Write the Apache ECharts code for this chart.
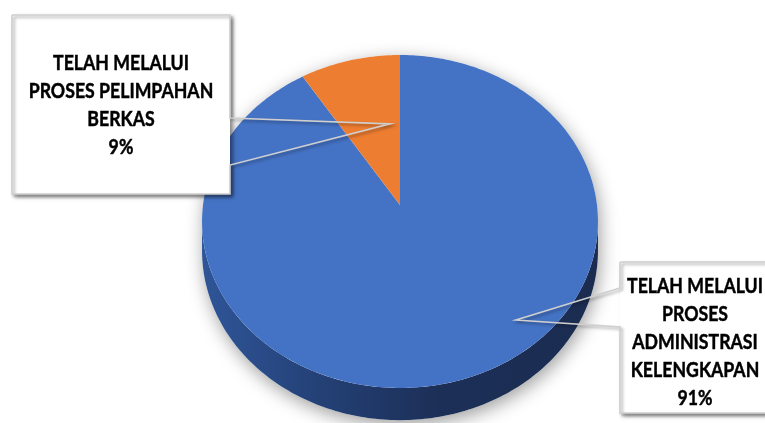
<!DOCTYPE html>
<html>
<head>
<meta charset="utf-8">
<script src="https://cdn.jsdelivr.net/npm/echarts@6/dist/echarts.min.js"></script>
<style>
  html, body { margin: 0; padding: 0; background: #ffffff; }
  #chart { width: 765px; height: 423px; }
</style>
</head>
<body>
<div id="chart"></div>
<script>
// Categories, their label lines and their shares (percent)
const categories = [
  'TELAH MELALUI PROSES ADMINISTRASI KELENGKAPAN',
  'TELAH MELALUI PROSES PELIMPAHAN BERKAS'
];
const labelLines = [
  ['TELAH MELALUI', 'PROSES', 'ADMINISTRASI', 'KELENGKAPAN'],
  ['TELAH MELALUI', 'PROSES PELIMPAHAN', 'BERKAS']
];
const shares = [91, 9];
const sliceColors = ['#4472C4', '#ED7D31'];

const total = shares.reduce((s, v) => s + v, 0);

// Tilted disc seen in perspective: a homography of the unit circle
const disc = { cx: 400, k: 197, a: 144.55, b: 205, c: -0.099, depth: 29 };
function proj(theta, r, drop) {
  const t = theta * Math.PI / 180;
  const u = r * Math.sin(t), v = -r * Math.cos(t);
  const w = 1 + disc.c * v;
  return [disc.cx + disc.k * u / w, (disc.a * v + disc.b + (drop || 0)) / w];
}
function arc(a0, a1, drop) {
  const pts = [];
  const n = Math.max(2, Math.ceil(Math.abs(a1 - a0)));
  for (let s = 0; s <= n; s++) pts.push(proj(a0 + (a1 - a0) * s / n, 1, drop));
  return pts;
}
// Silhouette extremes: the visible rim runs from the rightmost to the leftmost point
let frontStart = 90, frontEnd = 270, xmax = -Infinity, xmin = Infinity;
for (let a = 0; a < 360; a += 0.25) {
  const x = proj(a, 1)[0];
  if (x > xmax) { xmax = x; frontStart = a; }
  if (x < xmin) { xmin = x; frontEnd = a; }
}

// Callout boxes: [x, y, w, h], side of the pointer, opening on that side,
// pointer tip as (fraction of slice angle, fraction of radius), text centre
const callouts = [
  { box: [620, 262, 160, 151], side: 'left',  gap: [288, 327], tip: [0.427, 0.854], text: [695, 343] },
  { box: [12, 15, 218, 179],   side: 'right', gap: [118, 165], tip: [0.82, 0.52],   text: [121, 106] }
];

const rimGradient = {
  type: 'linear', x: 0, y: 0, x2: 1, y2: 0,
  colorStops: [
    { offset: 0, color: '#2f5598' },
    { offset: 0.35, color: '#223d70' },
    { offset: 0.6, color: '#1c2f57' },
    { offset: 1, color: '#1b2c50' }
  ]
};

function renderItem(params, api) {
  const i = params.dataIndex;
  const val = api.value(0);
  let cum = 0;
  for (let j = 0; j < i; j++) cum += shares[j];
  const a0 = cum / total * 360, a1 = (cum + val) / total * 360;
  const children = [];

  if (i === 0) {
    // soft shadow under the whole disc
    const sil = arc(frontEnd - 360, frontStart, 0).concat(arc(frontStart, frontEnd, disc.depth));
    children.push({
      type: 'polygon', z2: 1, shape: { points: sil },
      style: { fill: '#ffffff', shadowBlur: 18, shadowColor: 'rgba(0,0,0,0.38)', shadowOffsetX: 2, shadowOffsetY: 5 }
    });
  }

  // rim (side wall) on the visible front part
  const s = Math.max(a0, frontStart), e = Math.min(a1, frontEnd);
  if (e > s) {
    const pts = arc(s, e, 0).concat(arc(s, e, disc.depth).reverse());
    children.push({ type: 'polygon', z2: 2, shape: { points: pts }, style: { fill: rimGradient } });
  }

  // top face
  const top = [proj(0, 0)].concat(arc(a0, a1, 0));
  children.push({ type: 'polygon', z2: 3, shape: { points: top }, style: { fill: sliceColors[i] } });

  // callout
  const c = callouts[i];
  const [bx, by, bw, bh] = c.box;
  const tip = proj(a0 + (a1 - a0) * c.tip[0], c.tip[1]);
  let outline;
  if (c.side === 'left') {
    outline = [[bx, by], [bx + bw, by], [bx + bw, by + bh], [bx, by + bh], [bx, c.gap[1]], tip, [bx, c.gap[0]], [bx, by]];
  } else {
    outline = [[bx, by], [bx + bw, by], [bx + bw, c.gap[0]], tip, [bx + bw, c.gap[1]], [bx + bw, by + bh], [bx, by + bh], [bx, by]];
  }
  children.push({
    type: 'rect', z2: 10, shape: { x: bx, y: by, width: bw, height: bh },
    style: { fill: '#ffffff', shadowBlur: 4, shadowColor: 'rgba(0,0,0,0.45)', shadowOffsetX: 3, shadowOffsetY: 3 }
  });
  children.push({
    type: 'polyline', z2: 11, shape: { points: outline },
    style: { stroke: '#cfcfcf', lineWidth: 1.6, fill: null, lineJoin: 'miter',
             shadowBlur: 3, shadowColor: 'rgba(0,0,0,0.35)', shadowOffsetX: 2, shadowOffsetY: 2 }
  });
  const pct = Math.round(val / total * 100) + '%';
  children.push({
    type: 'text', z2: 12,
    x: c.text[0], y: c.text[1], scaleX: 0.885, scaleY: 1,
    style: {
      text: labelLines[i].concat([pct]).join('\n'),
      x: 0, y: 0, align: 'center', verticalAlign: 'middle',
      font: 'bold 20px Lato', lineHeight: 28, fill: '#000000',
      stroke: '#000000', lineWidth: 0.45
    }
  });

  return { type: 'group', children };
}

const chart = echarts.init(document.getElementById('chart'), null, { renderer: 'canvas' });
chart.setOption({
  backgroundColor: '#ffffff',
  animation: false,
  series: [{
    type: 'custom',
    coordinateSystem: 'none',
    renderItem: renderItem,
    data: shares.map((v, i) => ({ name: categories[i], value: [v, i] }))
  }]
});
</script>
</body>
</html>
